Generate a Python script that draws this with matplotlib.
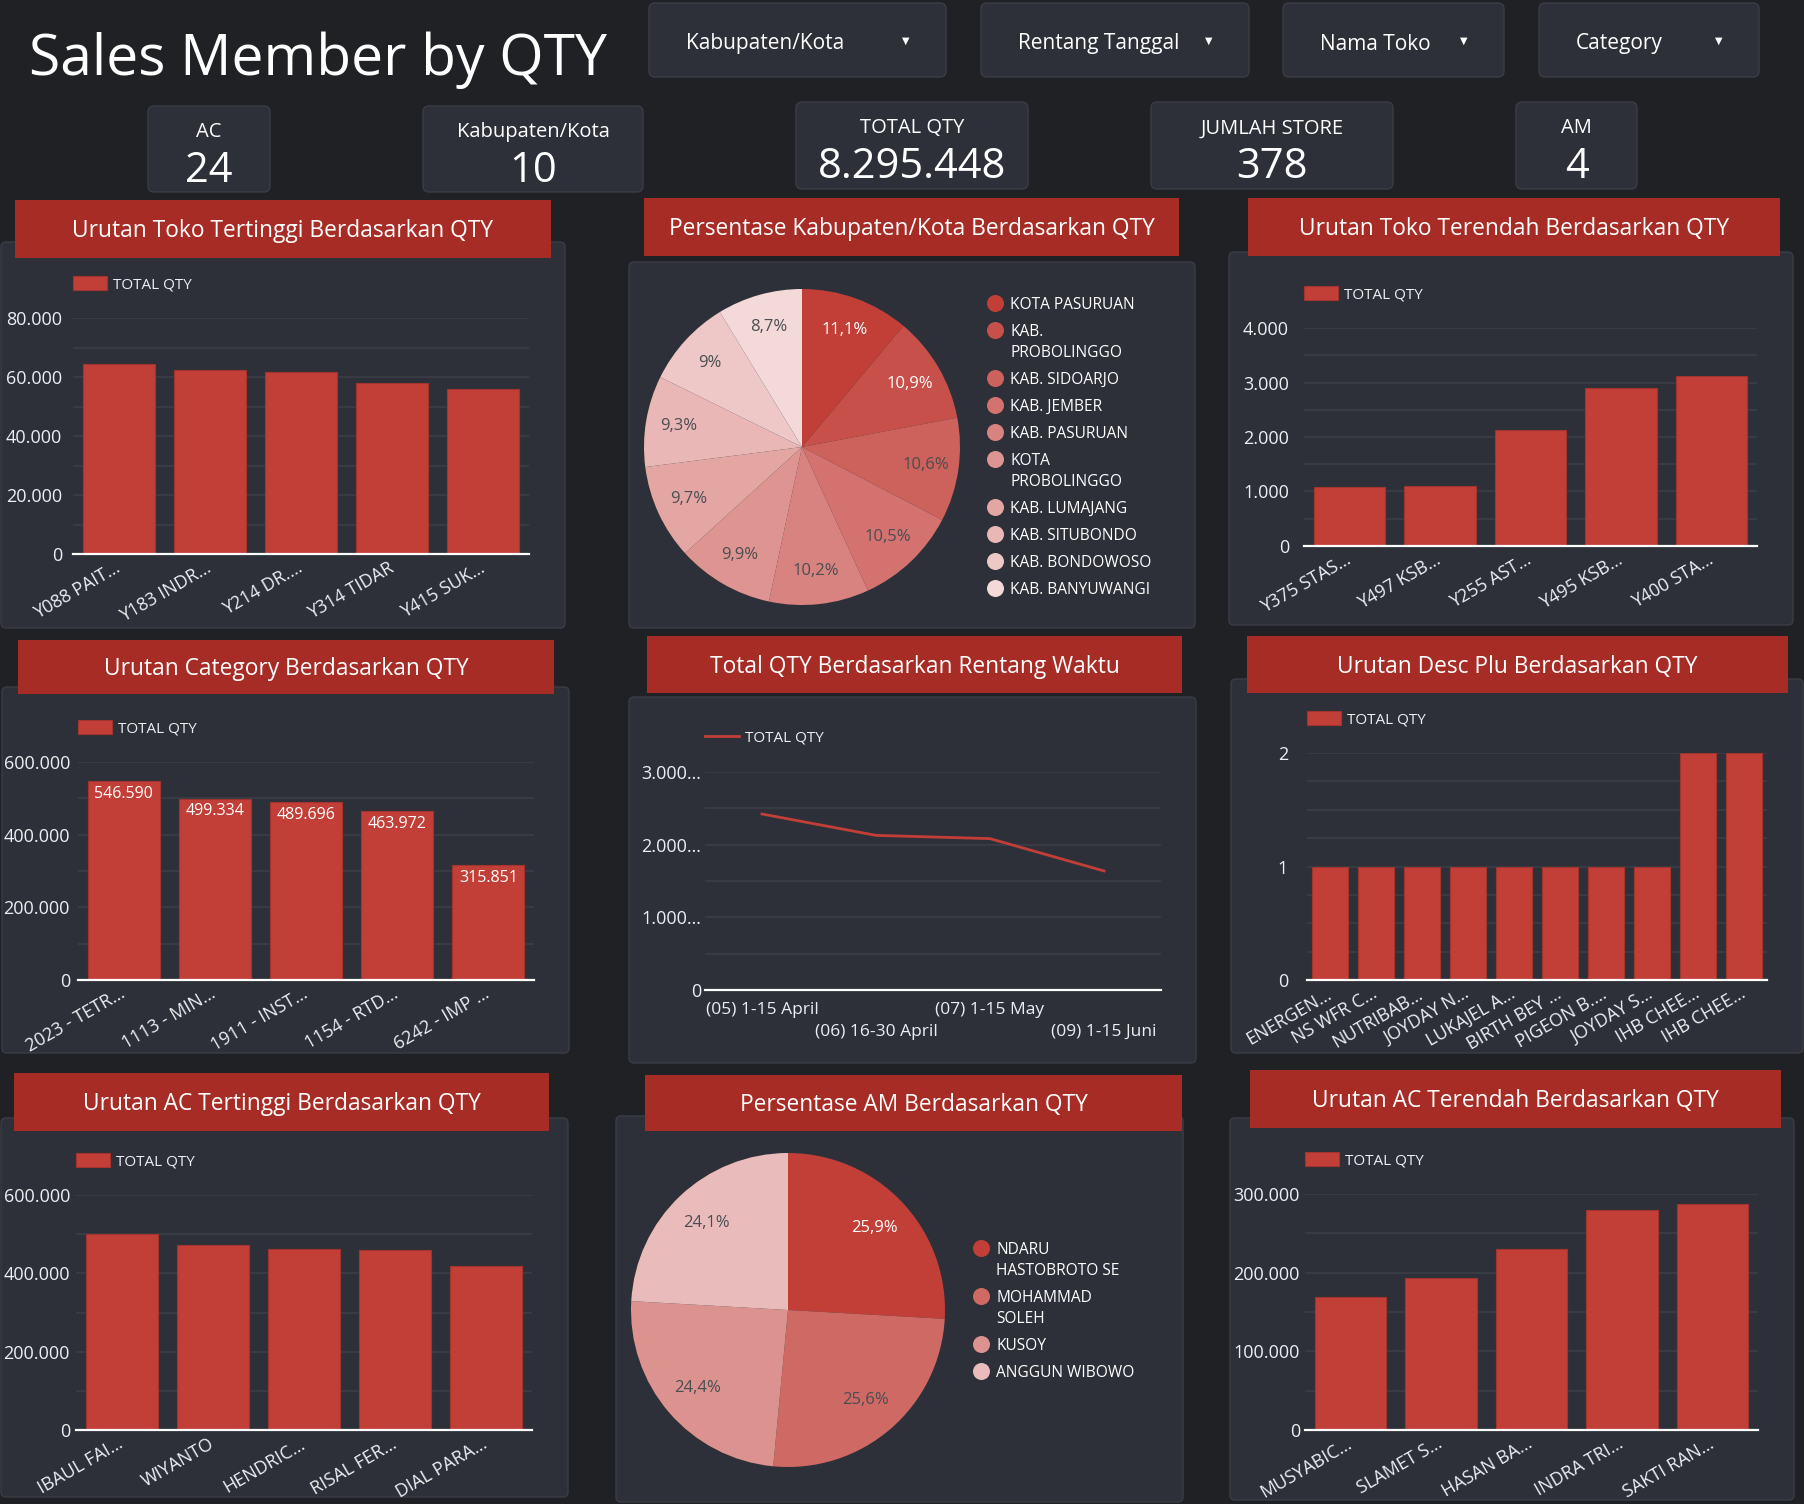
import matplotlib
matplotlib.use("Agg")
import matplotlib.pyplot as plt
from matplotlib.patches import FancyBboxPatch, Rectangle
from matplotlib.ticker import MultipleLocator, FuncFormatter
from matplotlib.colors import to_rgb
import numpy as np

plt.rcParams['font.family'] = ['Open Sans', 'DejaVu Sans']

# ---- data ----
filter_labels = ["Kabupaten/Kota", "Rentang Tanggal", "Nama Toko", "Category"]
kpi_labels = ["AC", "Kabupaten/Kota", "TOTAL QTY", "JUMLAH STORE", "AM"]
kpi_values = ["24", "10", "8.295.448", "378", "4"]

toko_top_names = ["Y088 PAIT…", "Y183 INDR…", "Y214 DR.…", "Y314 TIDAR", "Y415 SUK…"]
toko_top_qty = [64400, 62400, 61700, 58100, 56000]

kab_names = ["KOTA PASURUAN", "KAB.\nPROBOLINGGO", "KAB. SIDOARJO", "KAB. JEMBER",
             "KAB. PASURUAN", "KOTA\nPROBOLINGGO", "KAB. LUMAJANG", "KAB. SITUBONDO",
             "KAB. BONDOWOSO", "KAB. BANYUWANGI"]
kab_pct = [11.1, 10.9, 10.6, 10.5, 10.2, 9.9, 9.7, 9.3, 9.0, 8.7]

toko_low_names = ["Y375 STAS…", "Y497 KSB…", "Y255 AST…", "Y495 KSB…", "Y400 STA…"]
toko_low_qty = [1080, 1110, 2130, 2900, 3120]

category_names = ["2023 - TETR…", "1113 - MIN…", "1911 - INST…", "1154 - RTD…", "6242 - IMP …"]
category_qty = [546590, 499334, 489696, 463972, 315851]

periode = ["(05) 1-15 April", "(06) 16-30 April", "(07) 1-15 May", "(09) 1-15 Juni"]
periode_qty = [2422000, 2128000, 2083000, 1638000]

plu_names = ["ENERGEN…", "NS WFR C…", "NUTRIBAB…", "JOYDAY N…", "LUKAJEL A…",
             "BIRTH BEY …", "PIGEON B.…", "JOYDAY S…", "IHB CHEE…", "IHB CHEE…"]
plu_qty = [1, 1, 1, 1, 1, 1, 1, 1, 2, 2]

ac_top_names = ["IBAUL FAI…", "WIYANTO", "HENDRIC…", "RISAL FER…", "DIAL PARA…"]
ac_top_qty = [500000, 472000, 461000, 460000, 419000]

am_names = ["NDARU\nHASTOBROTO SE", "MOHAMMAD\nSOLEH", "KUSOY", "ANGGUN WIBOWO"]
am_pct = [25.9, 25.6, 24.4, 24.1]

ac_low_names = ["MUSYABIC…", "SLAMET S…", "HASAN BA…", "INDRA TRI…", "SAKTI RAN…"]
ac_low_qty = [168700, 193200, 229700, 279300, 287000]

# ---- style ----
BG = '#202124'
CARD = '#2d3038'
CARD_EDGE = '#3a3d45'
HEADER = '#a72c26'
BAR = '#c23f38'
BAR_EDGE = '#a3332d'
GRID = '#3b3e46'
TEXT = '#eceff1'
PIE_DARK = '#4a4d52'
TICK_FS = 13

W, H = 1804, 1504
fig = plt.figure(figsize=(W / 100, H / 100), dpi=100, facecolor=BG)
bg = fig.add_axes([0, 0, 1, 1])
bg.set_xlim(0, W)
bg.set_ylim(H, 0)
bg.axis('off')


def rect(x0, y0, x1, y1):
    # pixel box (top-left origin) -> figure fraction
    return [x0 / W, 1 - y1 / H, (x1 - x0) / W, (y1 - y0) / H]


def dots(v):
    return f"{v:,.0f}".replace(",", ".")


def box(x0, y0, x1, y1, fc=CARD, ec=CARD_EDGE, r=5):
    bg.add_patch(FancyBboxPatch((x0, y0), x1 - x0, y1 - y0,
                                boxstyle=f"round,pad=0,rounding_size={r}",
                                fc=fc, ec=ec, lw=1, zorder=1))


def ctext(x, y, s, size, color='white', ha='center', **kw):
    # y is the middle of the capital letters
    bg.text(x, y + 0.5 * size, s, fontsize=size, color=color, ha=ha, va='baseline', zorder=3, **kw)


def panel(card, head, title):
    box(*card)
    bg.add_patch(Rectangle((head[0], head[1]), head[2] - head[0], head[3] - head[1],
                           fc=HEADER, ec='none', zorder=2))
    ctext((head[0] + head[2]) / 2, (head[1] + head[3]) / 2, title, 16.4)


def style_axis(ax, ymax, major, minor, ypad, fmt=dots):
    ax.set_facecolor('none')
    ax.set_ylim(0, ymax)
    ax.yaxis.set_major_locator(MultipleLocator(major))
    ax.yaxis.set_minor_locator(MultipleLocator(minor))
    ax.yaxis.set_major_formatter(FuncFormatter(lambda v, p: fmt(v)))
    ax.grid(axis='y', which='both', color=GRID, lw=1.2)
    ax.set_axisbelow(True)
    for s in ['top', 'right', 'left']:
        ax.spines[s].set_visible(False)
    ax.spines['bottom'].set_color('white')
    ax.spines['bottom'].set_linewidth(1.6)
    ax.spines['bottom'].set_zorder(5)
    ax.tick_params(axis='both', which='both', length=0, colors=TEXT, labelsize=TICK_FS)
    ax.tick_params(axis='y', pad=ypad * 0.72)


def bar_chart(pbox, names, values, ymax, major, minor, ypad):
    x0, ytop, x1, y0 = pbox
    ax = fig.add_axes(rect(x0, ytop, x1, y0))
    pos = np.arange(len(values))
    bars = ax.bar(pos, values, width=0.79, color=BAR, edgecolor=BAR_EDGE, lw=0.8,
                  label='TOTAL QTY', zorder=3)
    ax.set_xlim(-0.5, len(values) - 0.5)
    style_axis(ax, ymax, major, minor, ypad)
    ax.set_xticks(pos)
    ax.set_xticklabels(names, rotation=30, ha='right', va='center', rotation_mode='anchor')
    ax.tick_params(axis='x', pad=9)
    ax.legend(loc='center left', bbox_to_anchor=(0, 1 + 34 / (y0 - ytop)), frameon=False,
              fontsize=11, labelcolor=TEXT, handlelength=2.2, handleheight=1.05,
              handletextpad=0.4, borderpad=0, borderaxespad=0)
    return ax, bars


def pct(v):
    return f"{v:g}".replace('.', ',') + '%'


def pie_chart(pbox, values, names, c_end, n_white, labdist, leg_x, leg_y):
    ax = fig.add_axes(rect(*pbox))
    c0, c1 = np.array(to_rgb(BAR)), np.array(to_rgb(c_end))
    t = np.linspace(0, 1, len(values))
    colors = [tuple(c0 + (c1 - c0) * k) for k in t]
    _, texts = ax.pie(values, colors=colors, startangle=90, counterclock=False,
                      labels=[pct(v) for v in values], labeldistance=labdist,
                      wedgeprops=dict(linewidth=0), textprops=dict(fontsize=12))
    for i, tx in enumerate(texts):
        tx.set_ha('center')
        tx.set_va('center')
        tx.set_color('white' if i < n_white else PIE_DARK)
    ax.set_xlim(-1, 1)
    ax.set_ylim(-1, 1)
    ax.set_aspect('equal')
    # legend, first line of each entry carries the dot
    y = leg_y
    for name, c in zip(names, colors):
        bg.scatter([leg_x], [y], s=150, color=c, zorder=3, linewidths=0)
        for line in name.split('\n'):
            ctext(leg_x + 15, y, line, 11.2, ha='left')
            y += 21
        y += 6


# ---- header ----
bg.text(29, 75, "Sales Member by QTY", fontsize=41, color='white', ha='left', va='baseline')

filters = [(649, 946), (981, 1249), (1283, 1504), (1539, 1759)]
for (fx0, fx1), lab in zip(filters, filter_labels):
    box(fx0, 3, fx1, 77, r=6)
    ctext(fx0 + 37, 42, lab, 15, ha='left')
    bg.text(fx1 - 40, 41, "▼", fontsize=7, color='white', ha='center', va='center',
            family='DejaVu Sans', zorder=3)

kpis = [(148, 106, 270, 192), (423, 106, 643, 192), (796, 102, 1028, 189),
        (1151, 102, 1393, 189), (1516, 102, 1637, 189)]
for (kx0, ky0, kx1, ky1), lab, val in zip(kpis, kpi_labels, kpi_values):
    box(kx0, ky0, kx1, ky1, r=6)
    cx = (kx0 + kx1) / 2
    ctext(cx, ky0 + 24, lab, 14.5)
    ctext(cx, ky0 + 61, val, 30)

# ---- row 1 ----
panel((1, 242, 565, 628), (15, 200, 551, 258), "Urutan Toko Tertinggi Berdasarkan QTY")
bar_chart((73, 318, 529, 554), toko_top_names, toko_top_qty, 80000, 20000, 10000, 11)

panel((629, 262, 1195, 628), (644, 198, 1179, 256), "Persentase Kabupaten/Kota Berdasarkan QTY")
pie_chart((644, 289, 960, 605), kab_pct, kab_names, '#f4d9d9', 2, 0.79, 995, 303)

panel((1229, 252, 1793, 625), (1248, 198, 1780, 256), "Urutan Toko Terendah Berdasarkan QTY")
bar_chart((1304, 328, 1757, 546), toko_low_names, toko_low_qty, 4000, 1000, 500, 15)

# ---- row 2 ----
panel((2, 687, 569, 1053), (18, 640, 554, 694), "Urutan Category Berdasarkan QTY")
ax_cat, bars_cat = bar_chart((78, 762, 534, 980), category_names, category_qty,
                             600000, 200000, 100000, 8)
ax_cat.bar_label(bars_cat, labels=[dots(v) for v in category_qty], padding=-15,
                 color='white', fontsize=11.5)

panel((629, 697, 1196, 1063), (647, 636, 1182, 693), "Total QTY Berdasarkan Rentang Waktu")
ax_line = fig.add_axes(rect(705, 772, 1161, 990))
xs = np.arange(len(periode))
ax_line.plot(xs, periode_qty, color=BAR, lw=2, label='TOTAL QTY', zorder=3)
ax_line.set_xlim(-0.5, len(periode) - 0.5)
style_axis(ax_line, 3000000, 1000000, 500000, 4,
           fmt=lambda v: dots(v) if len(dots(v)) <= 6 else dots(v)[:5] + '…')
ax_line.set_xticks(xs, [p if i % 2 == 0 else "\n" + p for i, p in enumerate(periode)])
for lab in ax_line.get_xticklabels():
    lab.set_linespacing(1.45)
ax_line.tick_params(axis='x', pad=9, labelsize=12.5)
ax_line.legend(loc='center left', bbox_to_anchor=(0, 1 + 34 / 218), frameon=False,
               fontsize=11, labelcolor=TEXT, handlelength=2.2, handletextpad=0.4,
               borderpad=0, borderaxespad=0)

panel((1231, 679, 1803, 1053), (1247, 636, 1788, 693), "Urutan Desc Plu Berdasarkan QTY")
bar_chart((1307, 753, 1767, 980), plu_names, plu_qty, 2, 1, 0.25, 19)

# ---- row 3 ----
panel((1, 1118, 568, 1497), (14, 1073, 549, 1131), "Urutan AC Tertinggi Berdasarkan QTY")
bar_chart((76, 1195, 532, 1430), ac_top_names, ac_top_qty, 600000, 200000, 100000, 6)

panel((616, 1116, 1183, 1502), (645, 1075, 1182, 1131), "Persentase AM Berdasarkan QTY")
pie_chart((631, 1153, 945, 1467), am_pct, am_names, '#e9bcbb', 1, 0.76, 981, 1248)

panel((1230, 1118, 1794, 1500), (1250, 1070, 1781, 1128), "Urutan AC Terendah Berdasarkan QTY")
bar_chart((1305, 1194, 1758, 1430), ac_low_names, ac_low_qty, 300000, 100000, 50000, 5)

fig.savefig("out.png", dpi=100, facecolor=BG)
